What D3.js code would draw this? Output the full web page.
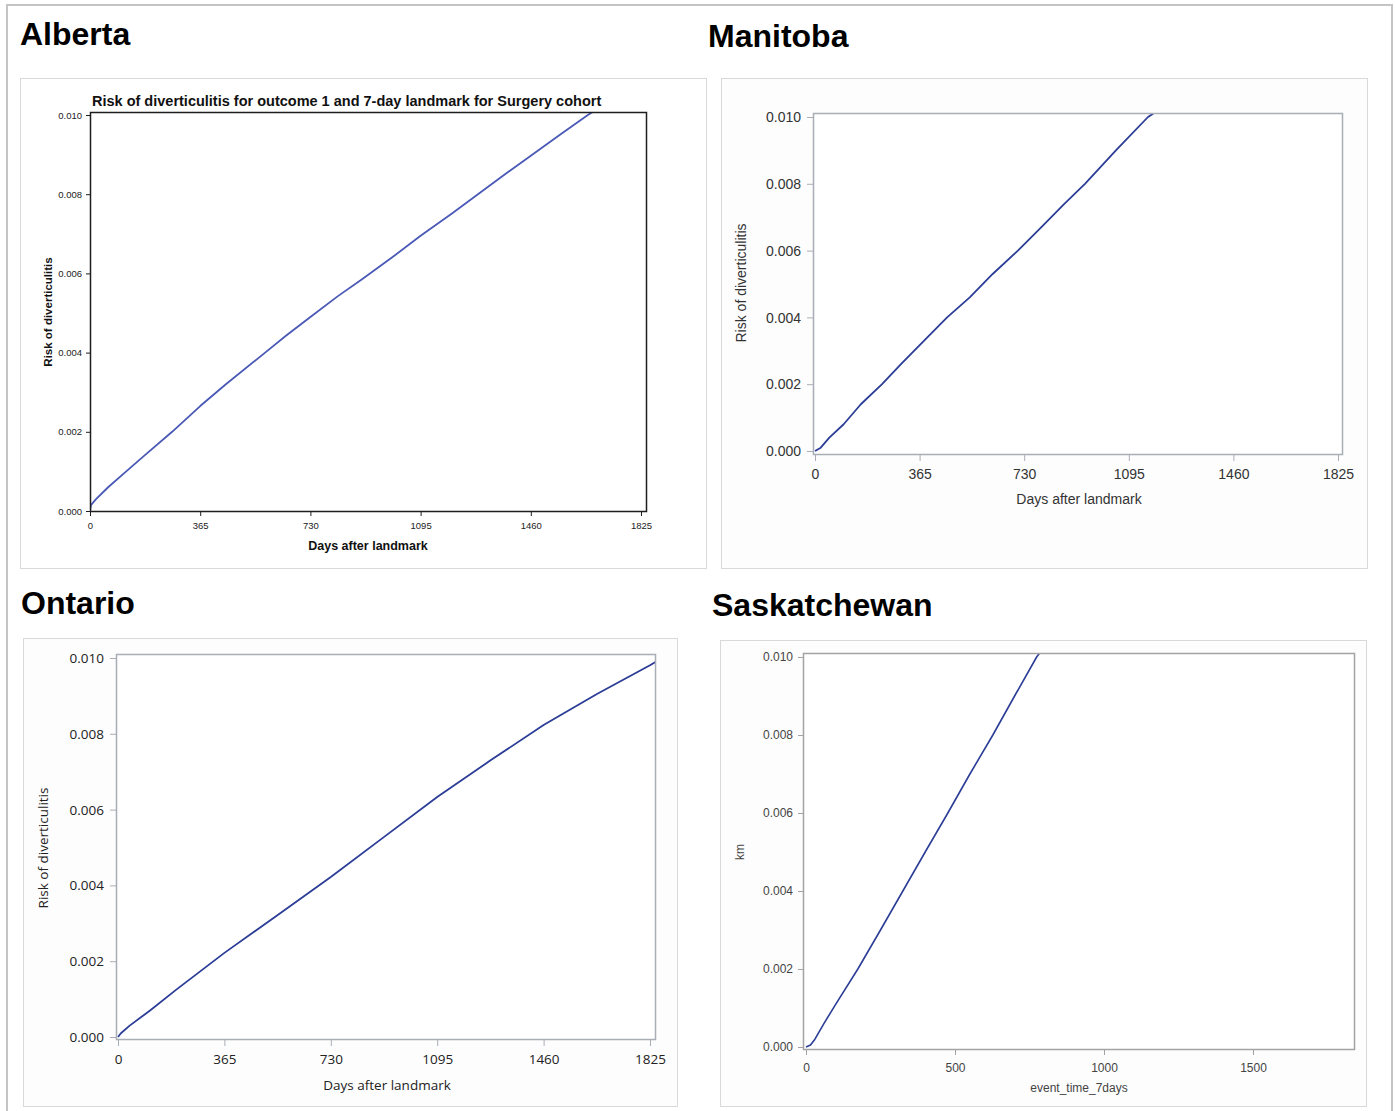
<!DOCTYPE html>
<html>
<head>
<meta charset="utf-8">
<script src="https://cdn.jsdelivr.net/npm/d3@7"></script>
<style>
  html, body { margin: 0; padding: 0; background: #ffffff; }
  svg { display: block; }
</style>
</head>
<body>
<svg id="chart" width="1395" height="1111"></svg>
<script>
// Cumulative risk curves (days after landmark, risk) per province
const albertaDays = [0, 3, 20, 60, 120, 180, 272, 365, 450, 580, 650, 730, 820, 901, 1000, 1095, 1200, 1285, 1370, 1460, 1560, 1649, 1670];
const albertaRisk = [0, 0.00015, 0.0003, 0.0006, 0.0010, 0.0014, 0.0020, 0.00265, 0.0032, 0.0040, 0.00443, 0.0049, 0.00542, 0.00585, 0.0064, 0.00695, 0.00752, 0.0080, 0.00848, 0.00897, 0.00952, 0.0100, 0.0101];

const manitobaDays = [0, 20, 50, 100, 160, 234, 300, 380, 461, 540, 620, 708, 790, 870, 942, 1050, 1162, 1180];
const manitobaRisk = [0, 0.0001, 0.0004, 0.0008, 0.0014, 0.0020, 0.0026, 0.0033, 0.0040, 0.0046, 0.0053, 0.0060, 0.0067, 0.0074, 0.0080, 0.0090, 0.0100, 0.0101];

const ontarioDays = [0, 10, 40, 110, 200, 365, 548, 730, 913, 1095, 1278, 1460, 1643, 1825, 1845];
const ontarioRisk = [0, 0.0001, 0.0003, 0.0007, 0.00125, 0.00222, 0.00322, 0.00422, 0.00528, 0.00633, 0.0073, 0.00823, 0.00905, 0.00981, 0.0099];

const saskDays = [0, 15, 30, 60, 100, 174, 250, 325, 400, 476, 550, 627, 700, 774, 784];
const saskRisk = [0, 0.00005, 0.0002, 0.0006, 0.0011, 0.0020, 0.0030, 0.0040, 0.0050, 0.0060, 0.0070, 0.0080, 0.0090, 0.0100, 0.0101];

// Tick values
const riskTicks = [0, 0.002, 0.004, 0.006, 0.008, 0.010];
const dayTicks = [0, 365, 730, 1095, 1460, 1825];
const eventTicks = [0, 500, 1000, 1500];

// Text
const provinceNames = ["Alberta", "Manitoba", "Ontario", "Saskatchewan"];
const albertaTitle = "Risk of diverticulitis for outcome 1 and 7-day landmark for Surgery cohort";
const xLabels = ["Days after landmark", "Days after landmark", "Days after landmark", "event_time_7days"];
const yLabels = ["Risk of diverticulitis", "Risk of diverticulitis", "Risk of diverticulitis", "km"];

const svg = d3.select("#chart");

// page frame
svg.append("rect")
  .attr("x", 7).attr("y", 5).attr("width", 1385).attr("height", 1120)
  .attr("fill", "none").attr("stroke", "#c4c4c4").attr("stroke-width", 2);

const panels = [
  {
    name: provinceNames[0], nameX: 20, nameY: 45,
    box: [20, 78, 706, 568],
    frame: [90, 112, 647, 512], frameColor: "#1e1e1e",
    xTicks: dayTicks, xMax: 1825, xAt0: 90, xAtMax: 641,
    yAt0: 511, yAtMax: 115,
    days: albertaDays, risk: albertaRisk, lineColor: "#4a59b6", lineWidth: 1.8,
    tickFont: "'Liberation Sans Narrow', 'Liberation Sans', Arial, sans-serif", tickSize: 9.5, tickColor: "#222",
    labelFont: "'Liberation Sans', Arial, sans-serif", labelWeight: "bold", labelSize: 12.5, labelColor: "#111",
    yLabelSize: 11.5,
    xLabel: xLabels[0], xLabelPos: [368, 550], yLabel: yLabels[0], yLabelPos: [52, 312],
    tickLabelGapX: 14, tickLabelGapY: 8, tickLen: 4, tickStroke: "#1e1e1e",
    title: albertaTitle
  },
  {
    name: provinceNames[1], nameX: 708, nameY: 47,
    box: [721, 78, 1367, 568],
    frame: [813, 113, 1343, 455], frameColor: "#a9adb5",
    xTicks: dayTicks, xMax: 1825, xAt0: 815, xAtMax: 1338,
    yAt0: 451, yAtMax: 117,
    days: manitobaDays, risk: manitobaRisk, lineColor: "#2b3d96", lineWidth: 1.8,
    tickFont: "'Liberation Sans', Arial, sans-serif", tickSize: 14, tickColor: "#333",
    labelFont: "'Liberation Sans', Arial, sans-serif", labelWeight: "normal", labelSize: 14, labelColor: "#333",
    yLabelSize: 14,
    xLabel: xLabels[1], xLabelPos: [1079, 504], yLabel: yLabels[1], yLabelPos: [746, 283],
    tickLabelGapX: 20, tickLabelGapY: 10, tickLen: 6, tickStroke: "#a9adb5"
  },
  {
    name: provinceNames[2], nameX: 21, nameY: 614,
    box: [23, 638, 677, 1106],
    frame: [116, 654, 656, 1040], frameColor: "#a9adb5",
    xTicks: dayTicks, xMax: 1825, xAt0: 118, xAtMax: 650,
    yAt0: 1037, yAtMax: 658,
    days: ontarioDays, risk: ontarioRisk, lineColor: "#2b3d96", lineWidth: 1.8,
    tickFont: "'Open Sans', 'Noto Sans', sans-serif", tickSize: 13.5, tickColor: "#222",
    labelFont: "'Open Sans', 'Noto Sans', sans-serif", labelWeight: "normal", labelSize: 13.5, labelColor: "#222",
    yLabelSize: 13.5,
    xLabel: xLabels[2], xLabelPos: [387, 1090], yLabel: yLabels[2], yLabelPos: [48, 848],
    tickLabelGapX: 20, tickLabelGapY: 10, tickLen: 6, tickStroke: "#a9adb5"
  },
  {
    name: provinceNames[3], nameX: 712, nameY: 616,
    box: [720, 640, 1366, 1106],
    frame: [803, 653, 1355, 1050], frameColor: "#a3a3a3",
    xTicks: eventTicks, xMax: 1500, xAt0: 806, xAtMax: 1253,
    yAt0: 1047, yAtMax: 657,
    days: saskDays, risk: saskRisk, lineColor: "#2b3d96", lineWidth: 1.6,
    tickFont: "'Liberation Sans', Arial, sans-serif", tickSize: 12, tickColor: "#444",
    labelFont: "'Liberation Sans', Arial, sans-serif", labelWeight: "normal", labelSize: 12, labelColor: "#444",
    yLabelSize: 12,
    xLabel: xLabels[3], xLabelPos: [1079, 1092], yLabel: yLabels[3], yLabelPos: [744, 852],
    tickLabelGapX: 19, tickLabelGapY: 9, tickLen: 5, tickStroke: "#a3a3a3"
  }
];

panels.forEach((p, i) => {
  const g = svg.append("g");

  // province heading
  g.append("text")
    .attr("x", p.nameX).attr("y", p.nameY)
    .attr("font-family", "'Liberation Sans', Arial, sans-serif")
    .attr("font-weight", "bold").attr("font-size", 32).attr("fill", "#000")
    .text(p.name);

  // outer panel box
  const [bx0, by0, bx1, by1] = p.box;
  g.append("rect")
    .attr("x", bx0 + 0.5).attr("y", by0 + 0.5)
    .attr("width", bx1 - bx0).attr("height", by1 - by0)
    .attr("fill", i === 0 ? "#ffffff" : "#fdfdfd")
    .attr("stroke", "#d9d9d9").attr("stroke-width", 1);

  const x = d3.scaleLinear().domain([0, p.xMax]).range([p.xAt0, p.xAtMax]);
  const y = d3.scaleLinear().domain([0, 0.010]).range([p.yAt0, p.yAtMax]);
  const [fx0, fy0, fx1, fy1] = p.frame;

  // plot area background
  g.append("rect")
    .attr("x", fx0).attr("y", fy0).attr("width", fx1 - fx0).attr("height", fy1 - fy0)
    .attr("fill", "#ffffff");

  // clip for the curve
  const clipId = "clip" + i;
  svg.append("clipPath").attr("id", clipId)
    .append("rect")
    .attr("x", fx0).attr("y", fy0).attr("width", fx1 - fx0).attr("height", fy1 - fy0);

  // x axis
  const xAxis = d3.axisBottom(x).tickValues(p.xTicks).tickSize(p.tickLen)
    .tickFormat(d3.format("d"));
  const gx = g.append("g").attr("transform", `translate(0,${fy1})`).call(xAxis);
  gx.select(".domain").remove();
  gx.selectAll(".tick line").attr("stroke", p.tickStroke);
  gx.selectAll(".tick text")
    .attr("font-family", p.tickFont).attr("font-size", p.tickSize).attr("fill", p.tickColor)
    .attr("dy", null).attr("y", p.tickLabelGapX).attr("dominant-baseline", "middle");

  // y axis
  const yAxis = d3.axisLeft(y).tickValues(riskTicks).tickSize(p.tickLen)
    .tickFormat(d3.format(".3f"));
  const gy = g.append("g").attr("transform", `translate(${fx0},0)`).call(yAxis);
  gy.select(".domain").remove();
  gy.selectAll(".tick line").attr("stroke", p.tickStroke);
  gy.selectAll(".tick text")
    .attr("font-family", p.tickFont).attr("font-size", p.tickSize).attr("fill", p.tickColor)
    .attr("x", -p.tickLen - p.tickLabelGapY + 4).attr("dy", "0.33em");

  // curve
  const pts = p.days.map((d, k) => [d, p.risk[k]]);
  g.append("path")
    .datum(pts)
    .attr("clip-path", `url(#${clipId})`)
    .attr("fill", "none")
    .attr("stroke", p.lineColor)
    .attr("stroke-width", p.lineWidth)
    .attr("stroke-linejoin", "round")
    .attr("d", d3.line().x(d => x(d[0])).y(d => y(d[1])));

  // frame
  g.append("rect")
    .attr("x", fx0 + 0.5).attr("y", fy0 + 0.5)
    .attr("width", fx1 - fx0 - 1).attr("height", fy1 - fy0 - 1)
    .attr("fill", "none").attr("stroke", p.frameColor)
    .attr("stroke-width", 1.5);

  // axis titles
  g.append("text")
    .attr("x", p.xLabelPos[0]).attr("y", p.xLabelPos[1])
    .attr("text-anchor", "middle")
    .attr("font-family", p.labelFont).attr("font-weight", p.labelWeight)
    .attr("font-size", p.labelSize).attr("fill", p.labelColor)
    .text(p.xLabel);

  g.append("text")
    .attr("transform", `translate(${p.yLabelPos[0]},${p.yLabelPos[1]}) rotate(-90)`)
    .attr("text-anchor", "middle")
    .attr("font-family", p.labelFont).attr("font-weight", p.labelWeight)
    .attr("font-size", p.yLabelSize).attr("fill", p.labelColor)
    .text(p.yLabel);

  if (p.title) {
    g.append("text")
      .attr("x", 92).attr("y", 106)
      .attr("font-family", "'Liberation Sans', Arial, sans-serif")
      .attr("font-weight", "bold").attr("font-size", 14.5).attr("fill", "#111")
      .text(p.title);
  }
});
</script>
</body>
</html>
